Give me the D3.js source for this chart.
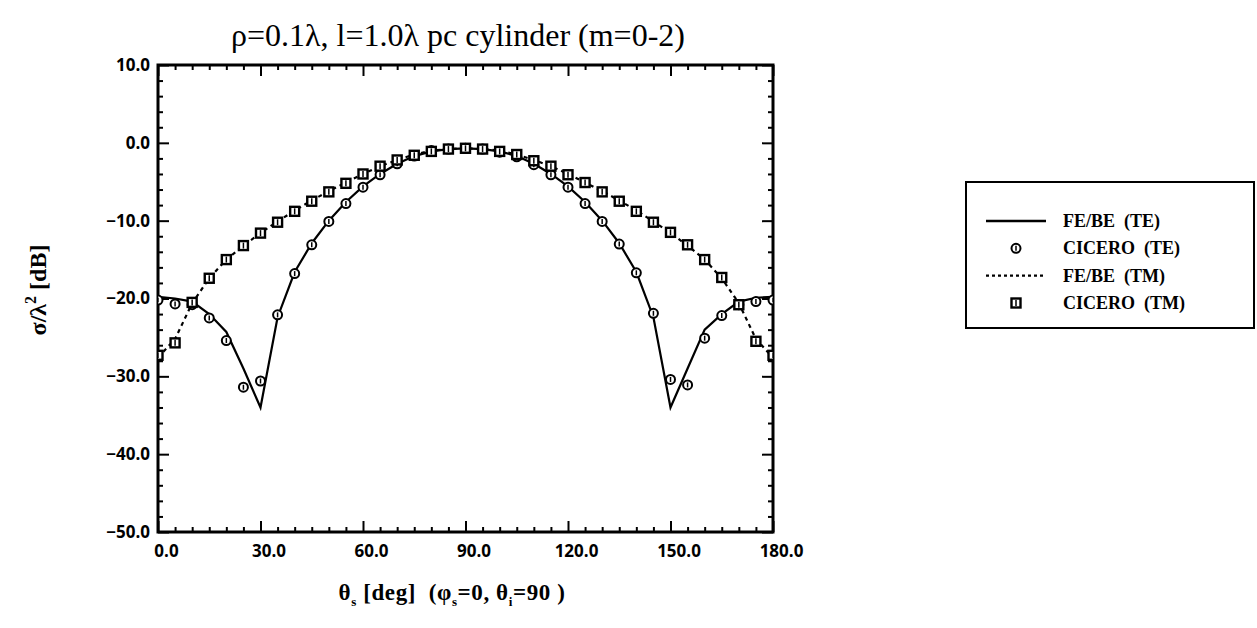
<!DOCTYPE html>
<html>
<head>
<meta charset="utf-8">
<script src="https://cdn.jsdelivr.net/npm/d3@7"></script>
<style>
  body { margin: 0; background: #fff; }
  text { fill: #000; }
</style>
</head>
<body>
<div id="chart"></div>
<script>

// Scattering angle theta_s (deg)
var thetaDeg = [0, 5, 10, 15, 20, 25, 30, 35, 40, 45, 50, 55, 60, 65, 70, 75, 80, 85, 90,
                95, 100, 105, 110, 115, 120, 125, 130, 135, 140, 145, 150, 155, 160, 165, 170, 175, 180];

// FE/BE (TE) solid curve, dB
var febeTE = [-19.8, -20.0, -20.4, -22.0, -24.3, -29.0, -34.0, -22.4, -16.6, -12.9, -10.0, -7.6, -5.6, -4.0, -2.7, -1.7, -1.1, -0.8, -0.7,
              -0.8, -1.1, -1.7, -2.7, -4.0, -5.6, -7.6, -10.0, -12.9, -16.6, -22.4, -34.0, -29.0, -24.0, -22.0, -20.4, -19.9, -19.8];

// CICERO (TE) circles, dB
var ciceroTE = [-20.2, -20.7, -20.8, -22.5, -25.4, -31.4, -30.6, -22.1, -16.8, -13.1, -10.1, -7.8, -5.7, -4.1, -2.7, -1.7, -1.0, -0.8, -0.7,
                -0.8, -1.2, -1.8, -2.8, -4.1, -5.7, -7.8, -10.1, -13.0, -16.7, -21.9, -30.4, -31.1, -25.1, -22.2, -20.8, -20.4, -20.2];

// FE/BE (TM) dotted curve, dB
var febeTM = [-27.6, -25.2, -20.6, -17.4, -15.0, -13.2, -11.6, -10.1, -8.7, -7.4, -6.2, -5.1, -4.0, -3.0, -2.2, -1.5, -1.0, -0.8, -0.7,
              -0.8, -1.0, -1.5, -2.2, -3.0, -4.0, -5.1, -6.2, -7.4, -8.7, -10.1, -11.6, -13.2, -15.0, -17.4, -20.6, -25.2, -27.6];

// CICERO (TM) squares, dB
var ciceroTM = [-27.3, -25.7, -20.5, -17.4, -15.0, -13.2, -11.6, -10.2, -8.8, -7.5, -6.3, -5.2, -4.0, -3.0, -2.2, -1.6, -1.1, -0.8, -0.7,
                -0.8, -1.1, -1.5, -2.3, -3.0, -4.1, -5.1, -6.3, -7.5, -8.8, -10.2, -11.5, -13.1, -15.0, -17.3, -20.8, -25.5, -27.3];

// Axis ticks
var xMajor = [0, 30, 60, 90, 120, 150, 180];
var xMinor = [5, 10, 15, 20, 25, 35, 40, 45, 50, 55, 65, 70, 75, 80, 85, 95, 100, 105, 110, 115,
              125, 130, 135, 140, 145, 155, 160, 165, 170, 175];
var yMajor = [10, 0, -10, -20, -30, -40, -50];
var yMinor = [8, 6, 4, 2, -2, -4, -6, -8, -12, -14, -16, -18, -22, -24, -26, -28,
              -32, -34, -36, -38, -42, -44, -46, -48];

var legendLabels = ["FE/BE  (TE)", "CICERO  (TE)", "FE/BE  (TM)", "CICERO  (TM)"];

// Figure dimensions
var W = 1257, H = 628;
var margin = {top: 65, left: 158},
    width = 615,
    height = 467;

var svg = d3.select("#chart").append("svg")
    .attr("width", W)
    .attr("height", H);

var g = svg.append("g")
    .attr("transform", "translate(" + margin.left + "," + margin.top + ")");

var x = d3.scaleLinear().domain([0, 180]).range([0, width]);
var y = d3.scaleLinear().domain([-50, 10]).range([height, 0]);

// clip for curves and markers
g.append("clipPath").attr("id", "plotclip")
  .append("rect").attr("x", 0).attr("y", 0).attr("width", width).attr("height", height);

var tickFont = "'Open Sans', 'DejaVu Sans', sans-serif";
var serif = "'Liberation Serif', 'Times New Roman', serif";

// ---- axes (ticks point inward on all four sides) ----
function styleAxis(sel, sw) {
    sel.select(".domain").remove();
    sel.selectAll(".tick line").attr("stroke", "#000").attr("stroke-width", sw);
}

// left
g.append("g")
    .call(d3.axisLeft(y).tickValues(yMinor).tickSize(-5).tickFormat(""))
    .call(styleAxis, 2);
var yAx = g.append("g")
    .call(d3.axisLeft(y).tickValues(yMajor).tickSize(-11).tickPadding(8).tickFormat(d3.format(".1f")))
    .call(styleAxis, 2);
yAx.selectAll("text")
    .style("font-family", tickFont).style("font-weight", "bold").style("font-size", "17px");

// right
g.append("g").attr("transform", "translate(" + width + ",0)")
    .call(d3.axisRight(y).tickValues(yMinor).tickSize(-5).tickFormat(""))
    .call(styleAxis, 2);
g.append("g").attr("transform", "translate(" + width + ",0)")
    .call(d3.axisRight(y).tickValues(yMajor).tickSize(-11).tickFormat(""))
    .call(styleAxis, 2);

// bottom
g.append("g").attr("transform", "translate(0," + height + ")")
    .call(d3.axisBottom(x).tickValues(xMinor).tickSize(-5).tickFormat(""))
    .call(styleAxis, 2);
var xAx = g.append("g").attr("transform", "translate(0," + height + ")")
    .call(d3.axisBottom(x).tickValues(xMajor).tickSize(-11).tickPadding(13).tickFormat(d3.format(".1f")))
    .call(styleAxis, 2);
xAx.selectAll("text")
    .attr("dx", 8)
    .style("font-family", tickFont).style("font-weight", "bold").style("font-size", "17px");

// top
g.append("g")
    .call(d3.axisTop(x).tickValues(xMinor).tickSize(-5).tickFormat(""))
    .call(styleAxis, 2);
g.append("g")
    .call(d3.axisTop(x).tickValues(xMajor).tickSize(-11).tickFormat(""))
    .call(styleAxis, 2);

// frame
g.append("rect")
    .attr("x", 0).attr("y", 0)
    .attr("width", width).attr("height", height)
    .attr("fill", "none").attr("stroke", "#000").attr("stroke-width", 3);

// ---- curves ----
var plot = g.append("g").attr("clip-path", "url(#plotclip)");

var curve = d3.line()
    .x(function(d, i) { return x(thetaDeg[i]); })
    .y(function(d) { return y(d); });

plot.append("path")
    .datum(febeTE)
    .attr("d", curve)
    .attr("fill", "none").attr("stroke", "#000").attr("stroke-width", 2.2)
    .attr("stroke-linejoin", "miter");

plot.append("path")
    .datum(febeTM)
    .attr("d", curve)
    .attr("fill", "none").attr("stroke", "#000").attr("stroke-width", 2.2)
    .attr("stroke-dasharray", "4,4");

// marker drawers
function drawCircle(sel) {
    sel.append("circle").attr("r", 4.5)
        .attr("fill", "#fff").attr("stroke", "#000").attr("stroke-width", 2);
    sel.append("line").attr("x1", 0).attr("x2", 0).attr("y1", -2.5).attr("y2", 2.5)
        .attr("stroke", "#000").attr("stroke-width", 1.5);
}
function drawSquare(sel) {
    sel.append("rect").attr("x", -4.5).attr("y", -4.5).attr("width", 9).attr("height", 9)
        .attr("fill", "#fff").attr("stroke", "#000").attr("stroke-width", 2.4);
    sel.append("line").attr("x1", 0).attr("x2", 0).attr("y1", -3).attr("y2", 3)
        .attr("stroke", "#000").attr("stroke-width", 1.5);
}

plot.selectAll(".mk-te")
    .data(ciceroTE)
    .enter().append("g")
    .attr("class", "mk-te")
    .attr("transform", function(d, i) { return "translate(" + x(thetaDeg[i]) + "," + y(d) + ")"; })
    .each(function() { drawCircle(d3.select(this)); });

plot.selectAll(".mk-tm")
    .data(ciceroTM)
    .enter().append("g")
    .attr("class", "mk-tm")
    .attr("transform", function(d, i) { return "translate(" + x(thetaDeg[i]) + "," + y(d) + ")"; })
    .each(function() { drawSquare(d3.select(this)); });

// ---- titles ----
svg.append("text")
    .attr("x", 458).attr("y", 46)
    .attr("text-anchor", "middle")
    .style("font-family", serif)
    .style("font-size", "32px")
    .text("ρ=0.1λ, l=1.0λ pc cylinder (m=0-2)");

var yTitle = svg.append("text")
    .attr("transform", "translate(46,290) rotate(-90)")
    .attr("text-anchor", "middle")
    .style("font-family", serif)
    .style("font-weight", "bold")
    .style("font-size", "24px");
yTitle.append("tspan").text("σ/λ");
yTitle.append("tspan").attr("dy", -10).style("font-size", "16px").text("2");
yTitle.append("tspan").attr("dy", 10).text(" [dB]");

var xTitle = svg.append("text")
    .attr("x", 452).attr("y", 600)
    .attr("text-anchor", "middle")
    .style("font-family", serif)
    .style("font-weight", "bold")
    .style("font-size", "23px")
    .style("letter-spacing", "0.6px")
    .style("white-space", "pre");
xTitle.append("tspan").text("θ");
xTitle.append("tspan").attr("dy", 6).style("font-size", "13px").text("s");
xTitle.append("tspan").attr("dy", -6).text(" [deg]  (φ");
xTitle.append("tspan").attr("dy", 6).style("font-size", "13px").text("s");
xTitle.append("tspan").attr("dy", -6).text("=0, θ");
xTitle.append("tspan").attr("dy", 6).style("font-size", "13px").text("i");
xTitle.append("tspan").attr("dy", -6).text("=90 )");

// ---- legend ----
var legend = svg.append("g").attr("transform", "translate(966,182)");
legend.append("rect")
    .attr("width", 288).attr("height", 146)
    .attr("fill", "none").attr("stroke", "#000").attr("stroke-width", 2);

var rowY = d3.scalePoint().domain(legendLabels).range([39, 121]);

legendLabels.forEach(function(lab, i) {
    var row = legend.append("g").attr("transform", "translate(0," + rowY(lab) + ")");
    if (i === 0 || i === 2) {
        row.append("line").attr("x1", 20).attr("x2", 80).attr("y1", 0).attr("y2", 0)
            .attr("stroke", "#000").attr("stroke-width", 2.4)
            .attr("stroke-dasharray", i === 2 ? "3,3" : null);
    } else {
        var mk = row.append("g").attr("transform", "translate(50,0)");
        if (i === 1) drawCircle(mk); else drawSquare(mk);
    }
    row.append("text")
        .attr("x", 97).attr("y", 6)
        .style("font-family", serif)
        .style("font-weight", "bold")
        .style("font-size", "18px")
        .style("white-space", "pre")
        .text(lab);
});

</script>
</body>
</html>
